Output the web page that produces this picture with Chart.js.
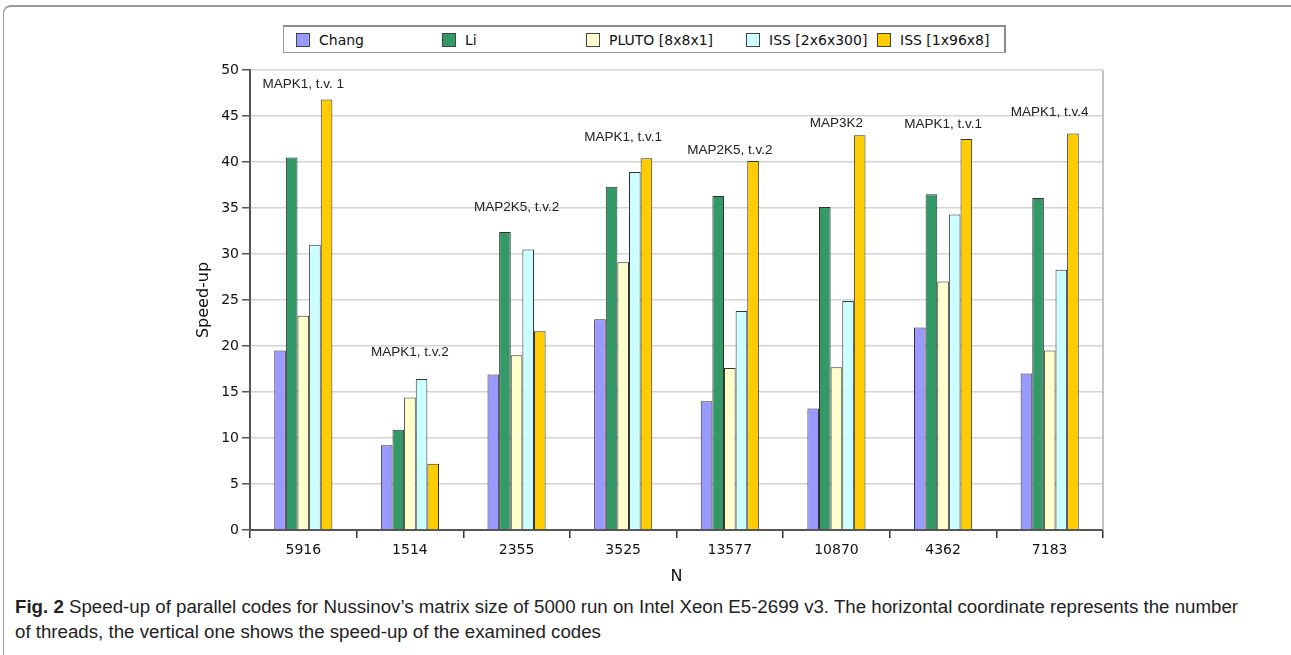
<!DOCTYPE html>
<html>
<head>
<meta charset="utf-8">
<script src="https://cdn.jsdelivr.net/npm/chart.js@4/dist/chart.umd.min.js"></script>
<style>
  body { margin: 0; background: #fff; width: 1291px; height: 655px; overflow: hidden; position: relative; }
  #frame { position: absolute; left: 3px; top: 5px; width: 1290px; height: 660px;
           border-top: 2px solid #9a9a9a; border-left: 1px solid #9a9a9a; border-top-left-radius: 8px; }
  #wrap { position: absolute; left: 0; top: 0; width: 1291px; height: 590px; }
  #legend { position: absolute; left: 283px; top: 25px; width: 723px; height: 28px; box-sizing: border-box;
            border: 1px solid #999; border-top: 2px solid #8a8a8a; border-right: 2px solid #8a8a8a; background: #fff;
            font-family: "DejaVu Sans", sans-serif; font-size: 14px; color: #111; }
  .item { position: absolute; top: 5px; display: flex; align-items: center; white-space: nowrap; }
  .swatch { width: 12px; height: 12px; border: 1px solid #444; margin-right: 9px; }
  #caption { position: absolute; left: 15px; top: 594px; font-family: "Liberation Sans Narrow", "Liberation Sans", sans-serif;
             font-size: 18.7px; line-height: 25px; color: #222; white-space: nowrap; }
</style>
</head>
<body>
<div id="frame"></div>
<div id="wrap"><canvas id="speedChart" width="1291" height="590"></canvas></div>
<div id="legend"></div>
<div id="caption"><b>Fig. 2</b> Speed-up of parallel codes for Nussinov’s matrix size of 5000 run on Intel Xeon E5-2699 v3. The horizontal coordinate represents the number<br>of threads, the vertical one shows the speed-up of the examined codes</div>
<script>
// categories (N) and series values
const labels = ['5916', '1514', '2355', '3525', '13577', '10870', '4362', '7183'];
const seriesNames = ['Chang', 'Li', 'PLUTO [8x8x1]', 'ISS [2x6x300]', 'ISS [1x96x8]'];
const seriesColors = ['#9999ff', '#339966', '#ffffcc', '#ccffff', '#ffcc00'];

const chang = [19.5, 9.2, 16.9, 22.9, 14.0, 13.2, 22.0, 17.0];
const li    = [40.5, 10.9, 32.4, 37.3, 36.3, 35.1, 36.5, 36.1];
const pluto = [23.3, 14.4, 19.0, 29.1, 17.6, 17.7, 27.0, 19.5];
const iss2  = [31.0, 16.4, 30.5, 38.9, 23.8, 24.9, 34.3, 28.3];
const iss1  = [46.8, 7.2, 21.6, 40.4, 40.1, 42.9, 42.5, 43.1];

// text notes above each group and the speed-up level they sit at
const notes = ['MAPK1, t.v. 1', 'MAPK1, t.v.2', 'MAP2K5, t.v.2', 'MAPK1, t.v.1',
               'MAP2K5, t.v.2', 'MAP3K2', 'MAPK1, t.v.1', 'MAPK1, t.v.4'];
const noteY = [48.4, 19.3, 35.1, 42.7, 41.3, 44.2, 44.1, 45.4];

const yTicks = [0, 5, 10, 15, 20, 25, 30, 35, 40, 45, 50];

// legend (fixed columns like the original)
const legendLeft = [12, 158, 302, 462, 593];
const legendEl = document.getElementById('legend');
seriesNames.forEach((name, i) => {
    const it = document.createElement('div');
    it.className = 'item';
    it.style.left = legendLeft[i] + 'px';
    it.innerHTML = '<span class="swatch" style="background:' + seriesColors[i] + '"></span>' + name;
    legendEl.appendChild(it);
});

const notePlugin = {
    id: 'notes',
    afterDatasetsDraw(chart) {
        const c = chart.ctx;
        const xs = chart.scales.x, ys = chart.scales.y;
        const area = chart.chartArea;
        c.save();
        // right edge of the plot
        c.strokeStyle = '#b0b0b0';
        c.lineWidth = 1.5;
        c.beginPath();
        c.moveTo(area.right, area.top);
        c.lineTo(area.right, area.bottom);
        c.stroke();
        c.fillStyle = '#222';
        c.font = '13.5px "Liberation Sans", sans-serif';
        c.textAlign = 'center';
        c.textBaseline = 'middle';
        notes.forEach((t, i) => {
            c.fillText(t, xs.getPixelForValue(i), ys.getPixelForValue(noteY[i]));
        });
        c.restore();
    }
};

const allSeries = [chang, li, pluto, iss2, iss1];
const ctx = document.getElementById('speedChart').getContext('2d');
const chart = new Chart(ctx, {
    type: 'bar',
    data: {
        labels: labels,
        datasets: allSeries.map((d, i) => ({
            label: seriesNames[i],
            data: d,
            backgroundColor: seriesColors[i],
            borderColor: '#333',
            borderWidth: 1,
            barPercentage: 1.0,
            categoryPercentage: 0.545
        }))
    },
    options: {
        responsive: false,
        animation: false,
        layout: {
            padding: { left: 190, right: 188, top: 70, bottom: 0 }
        },
        plugins: {
            legend: { display: false },
            tooltip: { enabled: false }
        },
        scales: {
            x: {
                afterFit: s => { s.height = 60; },
                border: { color: '#555', width: 2 },
                grid: {
                    offset: true,
                    drawOnChartArea: false,
                    drawTicks: true,
                    tickLength: 8,
                    tickColor: '#333',
                    lineWidth: 1.5
                },
                ticks: {
                    color: '#111',
                    padding: 4,
                    font: { family: 'DejaVu Sans', size: 14 }
                },
                title: {
                    display: true,
                    text: 'N',
                    color: '#111',
                    font: { family: 'DejaVu Sans', size: 16 }
                }
            },
            y: {
                min: 0,
                max: 50,
                afterFit: s => { s.width = 60; },
                afterBuildTicks: s => { s.ticks = yTicks.map(v => ({ value: v })); },
                border: { color: '#555', width: 2 },
                grid: {
                    color: '#d4d4d4',
                    lineWidth: 1.5,
                    tickLength: 8,
                    tickColor: '#555'
                },
                ticks: {
                    color: '#111',
                    padding: 3,
                    font: { family: 'DejaVu Sans', size: 14 }
                },
                title: {
                    display: true,
                    text: 'Speed-up',
                    color: '#111',
                    font: { family: 'DejaVu Sans', size: 16 }
                }
            }
        }
    },
    plugins: [notePlugin]
});
</script>
</body>
</html>
